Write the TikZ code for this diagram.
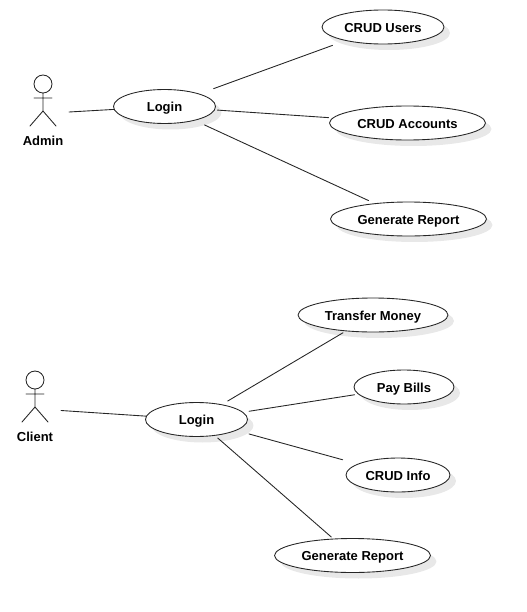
\documentclass[tikz,border=0pt]{standalone}
\usepackage{fontspec}
\setmainfont{Liberation Sans}
\usetikzlibrary{shapes.geometric,shadows}
\tikzset{
  usecase/.style={ellipse,draw=black!85,fill=white,line width=0.5pt,inner sep=0pt,minimum height=0.68cm,
    text height=0.21cm,text depth=0pt,
    drop shadow={shadow xshift=0.12cm,shadow yshift=-0.12cm,opacity=1,fill=black!9}},
  actorname/.style={inner sep=0pt},
  assoc/.style={line width=0.5pt,draw=black!85},
  actorfig/.pic={
    \draw[line width=0.5pt,draw=black!85] (0,-21) circle(9)
      (0,-12) -- (0,6)
      (-9,-7) -- (9,-7)
      (-13,21) -- (0,6) -- (13,21);
  }
}
\begin{document}
\begin{tikzpicture}[x=0.02cm,y=-0.02cm,font=\fontsize{7.4}{9}\selectfont\bfseries,line join=round,line cap=round]
  \useasboundingbox (0,0) rectangle (527,612);
  % admin
  \pic at (43,105) {actorfig};
  \node[actorname] (admin) at (43,141) {Admin};
  \coordinate (adminhand) at (69,112);
  \node[usecase,minimum width=2.04cm] (loginA) at (164.5,106.5) {Login};
  \node[usecase,minimum width=2.44cm] (users) at (383,27) {CRUD Users};
  \node[usecase,minimum width=3.12cm] (accounts) at (407.5,123) {CRUD Accounts};
  \node[usecase,minimum width=3.12cm] (reportA) at (408.5,219) {Generate Report};
  \draw[assoc] (adminhand) -- (loginA);
  \draw[assoc,shorten <=0.30cm,shorten >=0.27cm] (loginA) -- (users);
  \draw[assoc,shorten <=0.05cm,shorten >=0.08cm] (loginA) -- (accounts);
  \draw[assoc,shorten <=0.21cm,shorten >=0.13cm] (loginA) -- (reportA);
  % client
  \pic at (35,401) {actorfig};
  \node[actorname] (client) at (35,437) {Client};
  \coordinate (clienthand) at (61,410.5);
  \node[usecase,minimum width=2.04cm] (loginC) at (196.5,419.5) {Login};
  \node[usecase,minimum width=3.0cm] (transfer) at (373,315) {Transfer Money};
  \node[usecase,minimum width=2.0cm] (bills) at (404,387) {Pay Bills};
  \node[usecase,minimum width=2.08cm] (info) at (398,475) {CRUD Info};
  \node[usecase,minimum width=3.12cm] (reportC) at (352.5,555.5) {Generate Report};
  \draw[assoc] (clienthand) -- (loginC);
  \draw[assoc,shorten <=0.13cm,shorten >=0.06cm] (loginC) -- (transfer);
  \draw[assoc,shorten <=0.12cm,shorten >=0.07cm] (loginC) -- (bills);
  \draw[assoc,shorten <=0.26cm,shorten >=0.31cm] (loginC) -- (info);
  \draw[assoc,shorten <=0.07cm,shorten >=0.05cm] (loginC) -- (reportC);
\end{tikzpicture}
\end{document}
